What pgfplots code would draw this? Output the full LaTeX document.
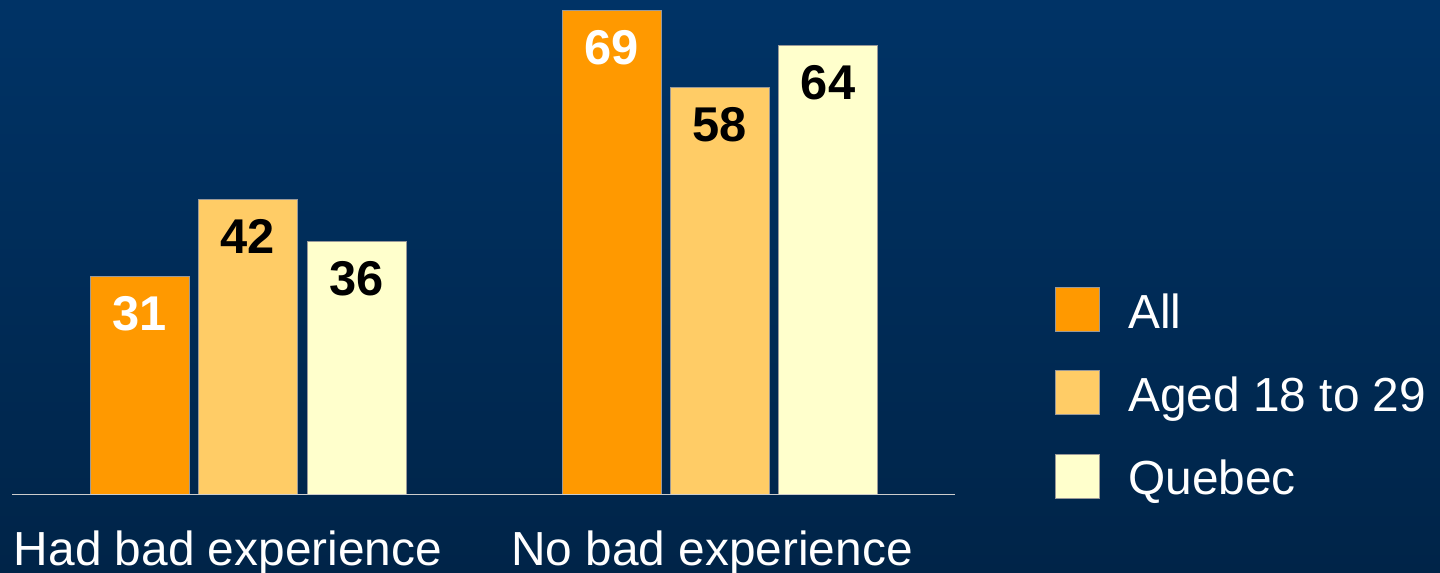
\documentclass[border=0pt]{standalone}
\usepackage{pgfplots}
\pgfplotsset{compat=1.18}
\usepackage{fontspec}
\setmainfont{Liberation Sans}

\definecolor{bgtop}{RGB}{0,51,102}
\definecolor{bgbot}{RGB}{0,36,72}
\definecolor{cAll}{RGB}{255,153,0}
\definecolor{cAge}{RGB}{255,204,102}
\definecolor{cQue}{RGB}{255,255,204}

\pgfplotsset{
  sq/.style={legend image code/.code={\draw[##1] (0bp,-3bp) rectangle (44bp,41bp);}},
}

\begin{document}
\begin{tikzpicture}
\shade[top color=bgtop, bottom color=bgbot] (0bp,0bp) rectangle (1440bp,573bp);
\begin{axis}[
  at={(12bp,79bp)}, anchor=south west,
  scale only axis, width=943bp, height=491bp,
  xmin=12, xmax=955, ymin=0, ymax=70,
  ybar, bar width=99bp, bar shift=0pt,
  axis y line=none, axis x line*=bottom,
  x axis line style={-, draw=black!20, line width=1bp},
  xtick={228,712},
  xticklabels={Had bad experience, No bad experience},
  major tick length=0pt, ytick=\empty,
  xticklabel style={anchor=base, yshift=-71bp, inner sep=0pt,
    font=\fontsize{48}{57}\selectfont, text=white},
  nodes near coords={\pgfmathprintnumber[assume math mode=true]{\pgfplotspointmeta}},
  nodes near coords style={font=\bfseries\fontsize{49}{58}\selectfont,
    anchor=base, yshift=-54bp, inner sep=0pt},
  legend style={at={(axis description cs:1.1060,0.4216)}, anchor=north west,
    draw=none, fill=none, inner sep=0pt, outer sep=0pt,
    row sep=39bp, column sep=29bp,
    cells={anchor=base west},
    nodes={inner sep=0pt, text height=41bp, text depth=3bp,
      font=\fontsize{48}{57}\selectfont, text=white}},
]
\addplot[fill=cAll, draw=black!40, sq, every node near coord/.append style={text=white}]
  coordinates {(139.5,31) (611.5,69)};
\addplot[fill=cAge, draw=black!40, sq, every node near coord/.append style={text=black}]
  coordinates {(247.5,42) (719.5,58)};
\addplot[fill=cQue, draw=black!40, sq, every node near coord/.append style={text=black}]
  coordinates {(356.5,36) (828,64)};
\legend{All, Aged 18 to 29, Quebec}
\end{axis}
\pgfresetboundingbox
\useasboundingbox (0bp,0bp) rectangle (1440bp,573bp);
\end{tikzpicture}
\end{document}
